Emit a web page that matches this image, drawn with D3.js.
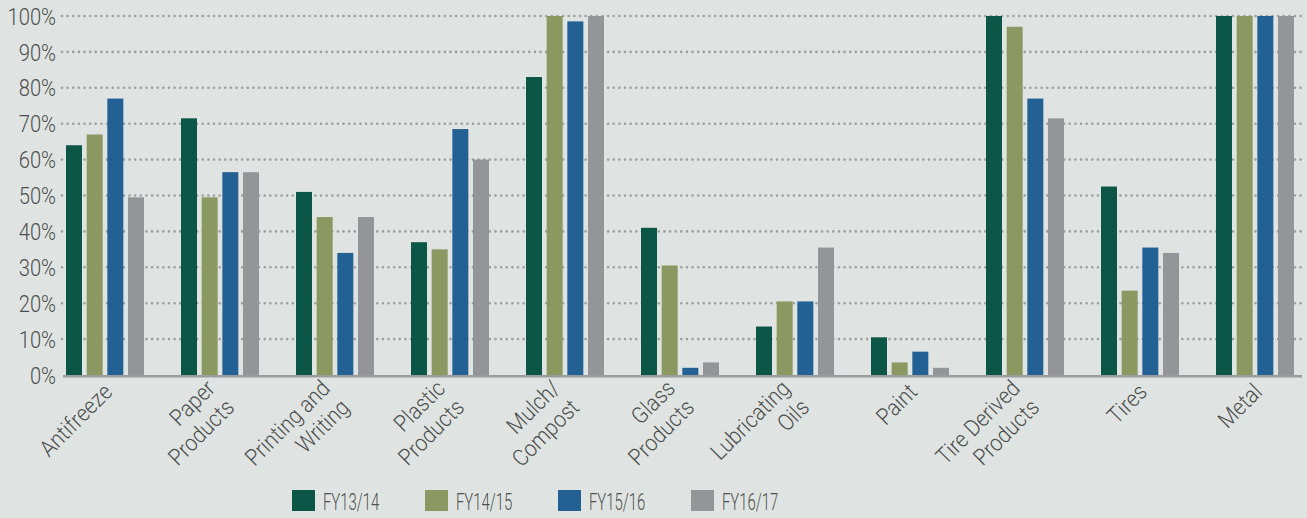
<!DOCTYPE html>
<html>
<head>
<meta charset="utf-8">
<script src="https://cdn.jsdelivr.net/npm/d3@7"></script>
<style>
  html, body { margin: 0; padding: 0; background: #dfe4e2; }
  svg { display: block; }
  text { font-family: Roboto, "Liberation Sans", sans-serif; font-weight: 300; fill: #4d4f4e; }
</style>
</head>
<body>
<svg id="chart" width="1307" height="518"></svg>
<script>
// categories, with the line breaks used in the rotated labels
var categories = ["Antifreeze", "Paper Products", "Printing and Writing", "Plastic Products",
    "Mulch/ Compost", "Glass Products", "Lubricating Oils", "Paint",
    "Tire Derived Products", "Tires", "Metal"];
var categoryLines = [["Antifreeze"], ["Paper", "Products"], ["Printing and", "Writing"],
    ["Plastic", "Products"], ["Mulch/", "Compost"], ["Glass", "Products"],
    ["Lubricating", "Oils"], ["Paint"], ["Tire Derived", "Products"], ["Tires"], ["Metal"]];

var seriesNames = ["FY13/14", "FY14/15", "FY15/16", "FY16/17"];
var seriesColors = ["#0c5648", "#8b9862", "#236093", "#949599"];

// percent values
var fy1314 = [64, 71.5, 51, 37, 83, 41, 13.5, 10.5, 100, 52.5, 100];
var fy1415 = [67, 49.5, 44, 35, 100, 30.5, 20.5, 3.5, 97, 23.5, 100];
var fy1516 = [77, 56.5, 34, 68.5, 98.5, 2, 20.5, 6.5, 77, 35.5, 100];
var fy1617 = [49.5, 56.5, 44, 60, 100, 3.5, 35.5, 2, 71.5, 34, 100];

var yTicks = [0, 10, 20, 30, 40, 50, 60, 70, 80, 90, 100];

var seriesValues = [fy1314, fy1415, fy1516, fy1617];

var svg = d3.select("#chart");

var y = d3.scaleLinear().domain([0, 100]).range([375, 16]);
var x0 = d3.scaleBand().domain(categories).range([47.5, 1312.5]);
var x1 = d3.scaleBand().domain(seriesNames).range([0, 78]).paddingInner(0.226);
var groupOffset = (x0.bandwidth() - 78) / 2;

// squeeze text horizontally, the original uses a condensed face
function condense(sel, k) {
    sel.each(function() {
        var w = this.getComputedTextLength();
        d3.select(this).attr("textLength", w * k).attr("lengthAdjust", "spacingAndGlyphs");
    });
}

// dotted grid lines
svg.append("g")
    .attr("class", "grid")
    .selectAll("line")
    .data(yTicks.filter(function(d) { return d > 0; }))
    .enter().append("line")
    .attr("x1", 62)
    .attr("x2", 1302)
    .attr("y1", function(d) { return y(d); })
    .attr("y2", function(d) { return y(d); })
    .style("stroke", "#9c9e9e")
    .style("stroke-width", 2.6)
    .style("stroke-linecap", "round")
    .style("stroke-dasharray", "0.01 5.62");

// y axis labels
svg.append("g")
    .attr("class", "yLabels")
    .selectAll("text")
    .data(yTicks)
    .enter().append("text")
    .attr("x", 56)
    .attr("y", function(d) { return y(d); })
    .attr("dy", "0.36em")
    .attr("text-anchor", "end")
    .style("font-size", "24px")
    .text(function(d) { return d + "%"; })
    .call(condense, 0.84);

// bars
var groups = svg.append("g")
    .attr("class", "bars")
    .selectAll("g")
    .data(categories)
    .enter().append("g")
    .attr("transform", function(d) { return "translate(" + (x0(d) + groupOffset) + ",0)"; });

groups.selectAll("rect")
    .data(function(d, i) {
        return seriesNames.map(function(s, j) { return {series: s, color: seriesColors[j], value: seriesValues[j][i]}; });
    })
    .enter().append("rect")
    .attr("x", function(d) { return x1(d.series); })
    .attr("width", x1.bandwidth())
    .attr("y", function(d) { return y(d.value); })
    .attr("height", function(d) { return y(0) - y(d.value); })
    .style("fill", function(d) { return d.color; });

// base line
svg.append("line")
    .attr("x1", 63)
    .attr("x2", 1302)
    .attr("y1", y(0) + 1.3)
    .attr("y2", y(0) + 1.3)
    .style("stroke", "#9a9b9c")
    .style("stroke-width", 2.6);

// rotated category labels, lines right aligned
var labels = svg.append("g")
    .attr("class", "xLabels")
    .selectAll("g")
    .data(categories)
    .enter().append("g")
    .attr("transform", function(d) { return "translate(" + (x0(d) + x0.bandwidth() / 2) + "," + y(0) + ")rotate(-45)"; });

labels.each(function(d, i) {
    var lines = categoryLines[i];
    var n = lines.length;
    var g = d3.select(this);
    for (var k = 0; k < n; k++) {
        g.append("text")
            .attr("x", n > 1 ? -13 : -7)
            .attr("y", n > 1 ? 8 + k * 27 : 19)
            .attr("text-anchor", "end")
            .style("font-size", "23px")
            .text(lines[k])
            .call(condense, 0.9);
    }
});

// legend
var legend = svg.append("g")
    .attr("class", "legend")
    .selectAll("g")
    .data(seriesNames)
    .enter().append("g")
    .attr("transform", function(d, i) { return "translate(" + (292 + i * 133) + ",490)"; });

legend.append("rect")
    .attr("width", 23)
    .attr("height", 21)
    .style("fill", function(d, i) { return seriesColors[i]; });

legend.append("text")
    .attr("x", 31)
    .attr("y", 19.5)
    .style("font-size", "24px")
    .text(function(d) { return d; })
    .call(condense, 0.62);
</script>
</body>
</html>
